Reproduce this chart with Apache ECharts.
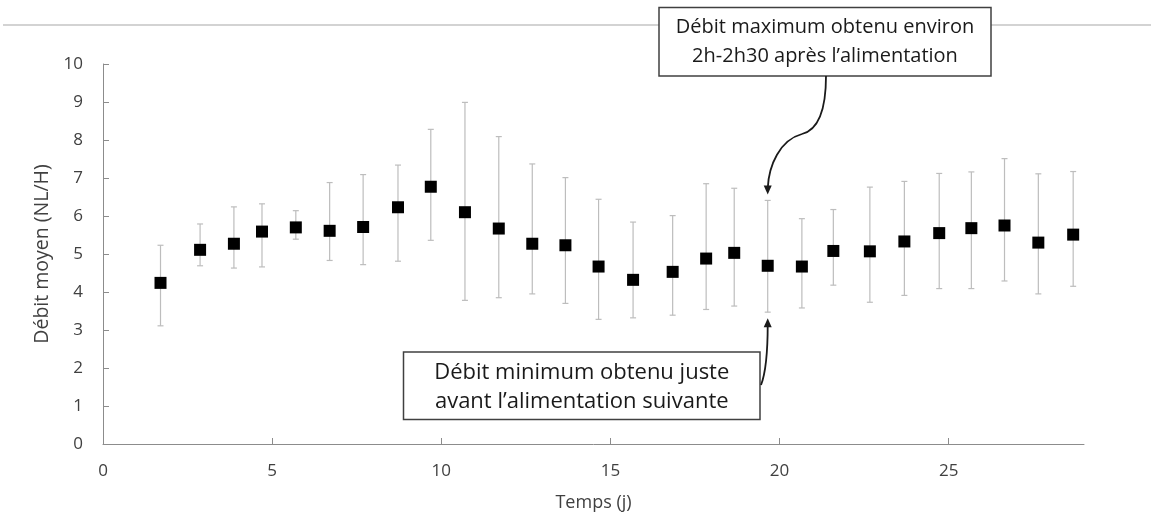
<!DOCTYPE html>
<html>
<head>
<meta charset="utf-8">
<script src="https://cdn.jsdelivr.net/npm/echarts@6/dist/echarts.min.js"></script>
<style>
html,body{margin:0;padding:0;background:#fff;}
#c{width:1151px;height:525px;}
</style>
</head>
<body>
<div id="c"></div>
<script>
// ---- data ----
var days = [1.70, 2.87, 3.87, 4.70, 5.70, 6.70, 7.69, 8.72, 9.69, 10.70, 11.70, 12.69, 13.67, 14.65, 15.67, 16.84, 17.83, 18.66, 19.65, 20.66, 21.59, 22.67, 23.69, 24.72, 25.67, 26.65, 27.65, 28.68];
var meanFlow = [4.24, 5.11, 5.27, 5.59, 5.70, 5.61, 5.71, 6.23, 6.77, 6.10, 5.67, 5.27, 5.23, 4.67, 4.32, 4.53, 4.88, 5.03, 4.69, 4.67, 5.08, 5.07, 5.33, 5.55, 5.68, 5.75, 5.30, 5.51];
var highFlow = [5.23, 5.79, 6.24, 6.32, 6.14, 6.88, 7.09, 7.34, 8.28, 8.99, 8.09, 7.37, 7.01, 6.44, 5.84, 6.01, 6.85, 6.73, 6.41, 5.93, 6.17, 6.76, 6.91, 7.12, 7.16, 7.51, 7.11, 7.17];
var lowFlow = [3.11, 4.69, 4.63, 4.66, 5.39, 4.83, 4.72, 4.81, 5.36, 3.78, 3.85, 3.95, 3.70, 3.28, 3.32, 3.39, 3.54, 3.63, 3.47, 3.58, 4.18, 3.73, 3.91, 4.09, 4.09, 4.29, 3.95, 4.15];
var xTickLabels = ['0', '5', '10', '15', '20', '25'];
var yTickLabels = ['0','1','2','3','4','5','6','7','8','9','10'];
var xName = 'Temps (j)';
var yName = 'Débit moyen (NL/H)';
var noteMax = ['Débit maximum obtenu environ', '2h-2h30 après l’alimentation'];
var noteMin = ['Débit minimum obtenu juste', 'avant l’alimentation suivante'];
var annotatedIndex = 18;

var FONT = '"Open Sans", "Noto Sans", sans-serif';
var chart = echarts.init(document.getElementById('c'), null, {renderer: 'canvas'});

var errData = days.map(function (d, i) { return [d, lowFlow[i], highFlow[i]]; });
var ptData = days.map(function (d, i) { return [d, meanFlow[i]]; });

var option = {
  animation: false,
  backgroundColor: '#ffffff',
  grid: {left: 103, right: 67, top: 64, bottom: 81, containLabel: false},
  xAxis: {
    type: 'value', min: 0, max: 29, interval: 5,
    name: xName, nameLocation: 'middle', nameGap: 50,
    nameTextStyle: {fontFamily: FONT, fontSize: 18, color: '#404040'},
    axisLine: {lineStyle: {color: '#8c8c8c', width: 1}},
    axisTick: {inside: true, length: 6, lineStyle: {color: '#8c8c8c'}},
    splitLine: {show: false},
    axisLabel: {fontFamily: FONT, fontSize: 17, color: '#404040', margin: 19, showMaxLabel: false,
      formatter: function (v) { var i = xTickLabels.indexOf(String(v)); return i >= 0 ? xTickLabels[i] : ''; }}
  },
  yAxis: {
    type: 'value', min: 0, max: 10, interval: 1,
    name: yName, nameLocation: 'middle', nameGap: 49,
    nameTextStyle: {fontFamily: FONT, fontSize: 19.5, color: '#404040'},
    axisLine: {show: true, lineStyle: {color: '#8c8c8c', width: 1}},
    axisTick: {show: true, inside: true, length: 6, lineStyle: {color: '#8c8c8c'}},
    splitLine: {show: false},
    axisLabel: {fontFamily: FONT, fontSize: 17, color: '#404040', margin: 20,
      formatter: function (v) { return yTickLabels[Math.round(v)]; }}
  },
  series: [
    {
      type: 'custom',
      data: errData,
      z: 2,
      renderItem: function (params, api) {
        var x = api.value(0);
        var lo = api.coord([x, api.value(1)]);
        var hi = api.coord([x, api.value(2)]);
        var cw = 3;
        var st = {stroke: '#bdbdbd', lineWidth: 1.2};
        return {
          type: 'group',
          children: [
            {type: 'line', shape: {x1: lo[0], y1: lo[1], x2: hi[0], y2: hi[1]}, style: st},
            {type: 'line', shape: {x1: hi[0] - cw, y1: hi[1], x2: hi[0] + cw, y2: hi[1]}, style: st},
            {type: 'line', shape: {x1: lo[0] - cw, y1: lo[1], x2: lo[0] + cw, y2: lo[1]}, style: st}
          ]
        };
      }
    },
    {
      type: 'scatter',
      data: ptData,
      symbol: 'rect',
      symbolSize: 12,
      z: 3,
      itemStyle: {color: '#000000', opacity: 1}
    }
  ]
};
chart.setOption(option);

// annotations
var hiPix = chart.convertToPixel({gridIndex: 0}, [days[annotatedIndex], highFlow[annotatedIndex]]);
var loPix = chart.convertToPixel({gridIndex: 0}, [days[annotatedIndex], lowFlow[annotatedIndex]]);
var tipTop = [hiPix[0], hiPix[1] - 6];
var tipBot = [loPix[0], loPix[1] + 6];

function box(x, y, w, h, lines, fs, dy) {
  return [
    {type: 'rect', shape: {x: x, y: y, width: w, height: h}, style: {fill: '#ffffff', stroke: '#404040', lineWidth: 1.5}, z: 10},
    {type: 'text', x: x + w / 2, y: y + h / 2 - 14.5 + dy, z: 11, style: {text: lines[0], font: fs + 'px ' + FONT, fill: '#1a1a1a', align: 'center', verticalAlign: 'middle'}},
    {type: 'text', x: x + w / 2, y: y + h / 2 + 14.5 + dy, z: 11, style: {text: lines[1], font: fs + 'px ' + FONT, fill: '#1a1a1a', align: 'center', verticalAlign: 'middle'}}
  ];
}
var ast = {stroke: '#1a1a1a', lineWidth: 1.8, fill: null};

var g = [];
g.push({type: 'line', shape: {x1: 3, y1: 25, x2: 1151, y2: 25}, style: {stroke: '#c4c4c4', lineWidth: 1.5}, z: 1});
g = g.concat(box(659, 7.5, 332, 68.5, noteMax, 20, 0.5));
g = g.concat(box(403.5, 352, 356.5, 67.5, noteMin, 22, 1));
// arrow from top box
g.push({type: 'bezierCurve', shape: {x1: 826, y1: 76, cpx1: 826, cpy1: 112, cpx2: 818, cpy2: 130, x2: 802, y2: 134}, style: ast, z: 12});
g.push({type: 'bezierCurve', shape: {x1: 802, y1: 134, cpx1: 780, cpy1: 140, cpx2: tipTop[0] + 1, cpy2: 165, x2: tipTop[0], y2: tipTop[1] - 6}, style: ast, z: 12});
g.push({type: 'polygon', shape: {points: [[tipTop[0] - 4, tipTop[1] - 9], [tipTop[0] + 4, tipTop[1] - 9], [tipTop[0], tipTop[1]]]}, style: {fill: '#1a1a1a'}, z: 12});
// arrow from bottom box
g.push({type: 'bezierCurve', shape: {x1: 761, y1: 385, cpx1: 766, cpy1: 372, cpx2: tipBot[0], cpy2: 350, x2: tipBot[0], y2: tipBot[1] + 6}, style: ast, z: 12});
g.push({type: 'polygon', shape: {points: [[tipBot[0] - 4, tipBot[1] + 9], [tipBot[0] + 4, tipBot[1] + 9], [tipBot[0], tipBot[1]]]}, style: {fill: '#1a1a1a'}, z: 12});

chart.setOption({graphic: g});
</script>
</body>
</html>
